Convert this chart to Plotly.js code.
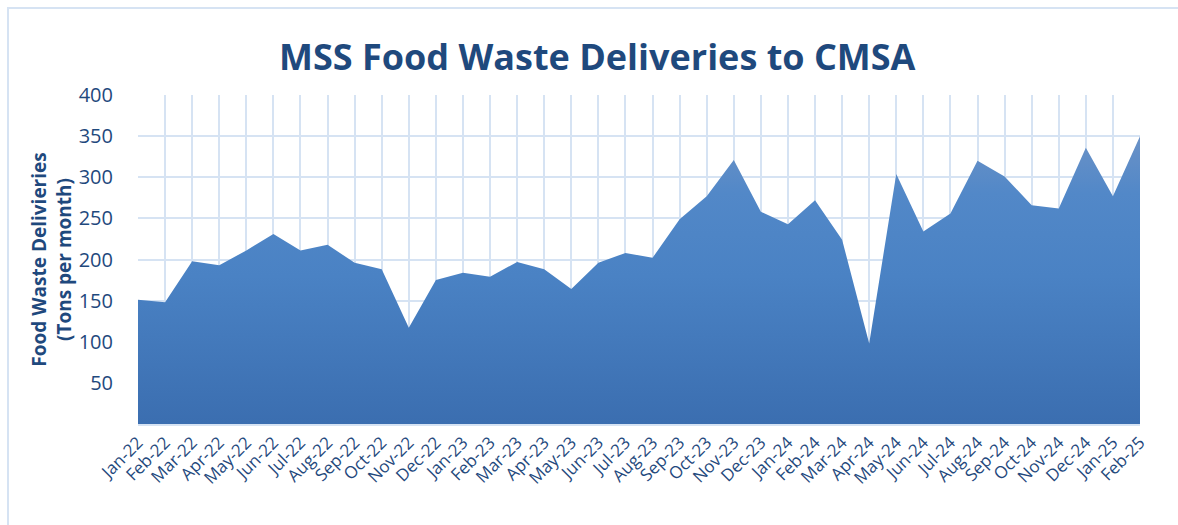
<!DOCTYPE html>
<html>
<head>
<meta charset="utf-8">
<script src="https://cdn.plot.ly/plotly-3.0.1.min.js"></script>
<style>
  html, body { margin: 0; padding: 0; background: #fff; }
  #wrap { position: relative; width: 1178px; height: 525px; overflow: hidden; }
  #chart { width: 1178px; height: 525px; }
  #frame { position: absolute; left: 7px; top: 7px; width: 1200px; height: 600px;
           border: 2px solid #d6e3f3; pointer-events: none; }
</style>
</head>
<body>
<div id="wrap">
  <div id="chart"></div>
  <div id="frame"></div>
</div>
<script>
const months = ["Jan-22","Feb-22","Mar-22","Apr-22","May-22","Jun-22","Jul-22","Aug-22","Sep-22","Oct-22","Nov-22","Dec-22",
                "Jan-23","Feb-23","Mar-23","Apr-23","May-23","Jun-23","Jul-23","Aug-23","Sep-23","Oct-23","Nov-23","Dec-23",
                "Jan-24","Feb-24","Mar-24","Apr-24","May-24","Jun-24","Jul-24","Aug-24","Sep-24","Oct-24","Nov-24","Dec-24",
                "Jan-25","Feb-25"];
const tons = [151,148,198,193,211,231,211,218,196,188,117,175,
              184,179,197,188,164,196,208,202,249,277,321,258,
              243,272,224,98,304,234,256,320,301,266,262,336,
              277,350];
const yTicks = [50,100,150,200,250,300,350,400];

const textColor = '#1f497d';
const gridColor = '#d6e3f3';

const trace = {
  x: months, y: tons, type: 'scatter', mode: 'lines',
  line: { width: 0, color: '#4a7fc0' },
  fill: 'tozeroy',
  fillgradient: {
    type: 'vertical', start: 0, stop: 360,
    colorscale: [[0,'#3b6eb0'],[0.5,'#4a82c4'],[0.78,'#5288c8'],[1,'#6e93c6']]
  },
  hoverinfo: 'x+y'
};

const layout = {
  width: 1178, height: 525,
  margin: { l: 138, r: 38, t: 95, b: 101 },
  paper_bgcolor: 'rgba(0,0,0,0)', plot_bgcolor: '#ffffff',
  showlegend: false,
  title: { text: '<b>MSS Food Waste Deliveries to CMSA</b>', x: 0.507, xanchor: 'center', y: 0.89, yanchor: 'middle',
           font: { family: 'Open Sans, sans-serif', size: 36, color: textColor } },
  xaxis: {
    type: 'category', range: [0, months.length - 1],
    tickangle: -45, showgrid: true, gridcolor: gridColor, gridwidth: 2,
    showline: true, linecolor: gridColor, linewidth: 2,
    ticks: '', tickfont: { family: 'Open Sans, sans-serif', size: 17, color: textColor },
    fixedrange: true
  },
  yaxis: {
    range: [0, 400], tickvals: yTicks, ticktext: yTicks.map(String),
    showgrid: true, gridcolor: gridColor, gridwidth: 2, zeroline: false,
    ticks: 'outside', ticklen: 20, tickcolor: 'rgba(0,0,0,0)',
    tickfont: { family: 'Open Sans, sans-serif', size: 20, color: textColor },
    title: { text: '<b>Food Waste Delivieries<br>(Tons per month)</b>', standoff: 2,
             font: { family: 'Open Sans, sans-serif', size: 19, color: textColor } },
    fixedrange: true
  }
};

Plotly.newPlot('chart', [trace], layout, { displayModeBar: false, staticPlot: true });
</script>
</body>
</html>
